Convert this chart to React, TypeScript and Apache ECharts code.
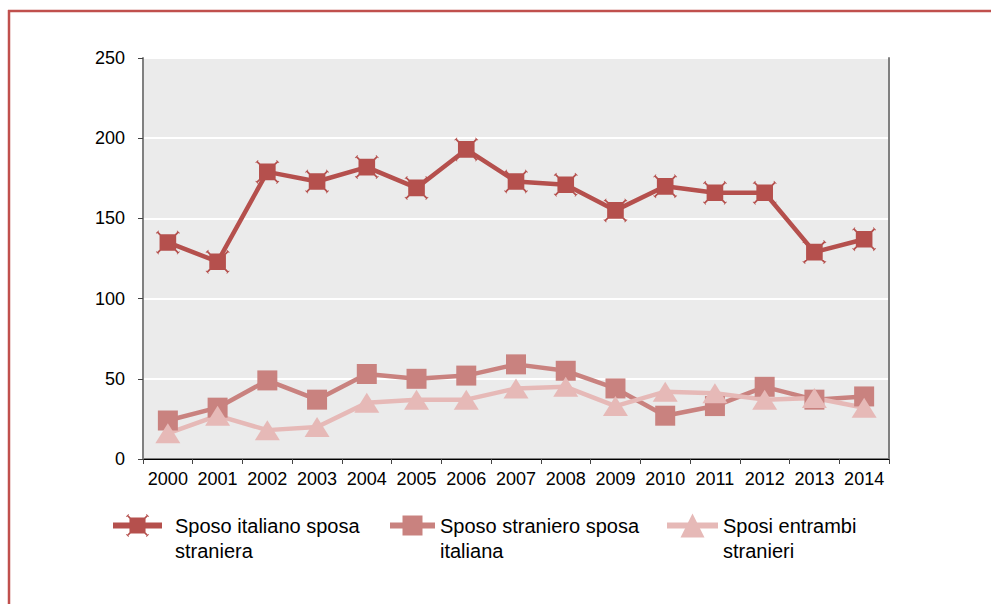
import React, { useEffect, useRef } from "react";
import * as echarts from "echarts";

const years = ["2000","2001","2002","2003","2004","2005","2006","2007","2008","2009","2010","2011","2012","2013","2014"];
const italianoStraniera = [135, 123, 179, 173, 182, 169, 193, 173, 171, 155, 170, 166, 166, 129, 137];
const stranieroItaliana = [24, 32, 49, 37, 53, 50, 52, 59, 55, 44, 27, 33, 45, 37, 39];
const entrambiStranieri = [16, 27, 18, 20, 35, 37, 37, 44, 45, 33, 42, 41, 37, 38, 32];
const seriesNames = [
  "Sposo italiano sposa straniera",
  "Sposo straniero sposa italiana",
  "Sposi entrambi stranieri",
];
const legendLabels: Record<string, string> = {
  "Sposo italiano sposa straniera": " \nSposo italiano sposa\nstraniera",
  "Sposo straniero sposa italiana": " \nSposo straniero sposa\nitaliana",
  "Sposi entrambi stranieri": " \nSposi entrambi\nstranieri",
};
const yTicks = { min: 0, max: 250, interval: 50 };

const C1 = "#b5504d";
const C2 = "#c9827f";
const C3 = "#e6b9b7";

// square marker with X-shaped corner spikes
function buildXSquare(): string {
  const pts: number[][][] = [];
  const sq = [[13, 13], [87, 13], [87, 87], [13, 87]];
  pts.push(sq);
  const spike = [[19.8, 14.2], [6.8, 1.2], [1.2, 6.8], [14.2, 19.8]];
  const cap = [[10.8, -1], [8.4, -3.4], [-3.4, 8.4], [-1, 10.8]];
  const orient = (poly: number[][]) => {
    let a = 0;
    for (let i = 0; i < poly.length; i++) {
      const p = poly[i], q = poly[(i + 1) % poly.length];
      a += p[0] * q[1] - q[0] * p[1];
    }
    return a;
  };
  const target = Math.sign(orient(sq));
  const flips = [[false, false], [true, false], [false, true], [true, true]];
  for (const [fx, fy] of flips) {
    for (const base of [spike, cap]) {
      let poly = base.map(([x, y]) => [fx ? 100 - x : x, fy ? 100 - y : y]);
      if (Math.sign(orient(poly)) !== target) poly = poly.slice().reverse();
      pts.push(poly);
    }
  }
  return (
    "path://" +
    pts
      .map((poly) => "M" + poly.map((p) => p[0].toFixed(1) + "," + p[1].toFixed(1)).join("L") + "Z")
      .join("")
  );
}

export default function App() {
  const ref = useRef<HTMLDivElement>(null);
  useEffect(() => {
    if (!ref.current) return;
    const chart = echarts.init(ref.current, null, { renderer: "svg" });
    const xSquare = buildXSquare();
    const font = "Liberation Sans, Arial, sans-serif";
    const legendBase = {
      top: 488,
      padding: 0,
      orient: "horizontal",
      formatter: (n: string) => legendLabels[n] || n,
      textStyle: { fontFamily: font, fontSize: 20, color: "#000", lineHeight: 25 },
    };
    chart.setOption({
      animation: false,
      backgroundColor: "#fff",
      textStyle: { fontFamily: font },
      grid: {
        left: 143,
        right: 102,
        top: 58,
        bottom: 145,
        show: true,
        backgroundColor: "#ebebeb",
        borderWidth: 0,
      },
      legend: [
        { ...legendBase, left: 110, data: [seriesNames[0]], itemWidth: 49, itemHeight: 29,
          textStyle: { ...legendBase.textStyle, padding: [0, 0, 0, 8] },
          lineStyle: { width: 6 } },
        { ...legendBase, left: 387, data: [seriesNames[1]], itemWidth: 45, itemHeight: 25,
          lineStyle: { width: 6 } },
        { ...legendBase, left: 664, data: [seriesNames[2]], itemWidth: 51, itemHeight: 30,
          lineStyle: { width: 6 } },
      ],
      xAxis: [
        {
          type: "category",
          data: years,
          boundaryGap: true,
          axisLine: { show: true, lineStyle: { color: "#808080", width: 2 } },
          axisTick: { show: true, length: 5, lineStyle: { color: "#444", width: 1 } },
          axisLabel: { color: "#000", fontSize: 18, margin: 11, fontFamily: font, interval: 0 },
          splitLine: { show: false },
        },
        {
          type: "category",
          data: years,
          position: "top",
          axisLine: { show: true, lineStyle: { color: "#000", width: 1 } },
          axisTick: { show: false },
          axisLabel: { show: false },
        },
      ],
      yAxis: [
        {
          type: "value",
          min: yTicks.min,
          max: yTicks.max,
          interval: yTicks.interval,
          axisLine: { show: true, lineStyle: { color: "#808080", width: 2 } },
          axisTick: { show: true, length: 5, lineStyle: { color: "#444", width: 1 } },
          axisLabel: { color: "#000", fontSize: 18, margin: 18, fontFamily: font },
          splitLine: { show: true, lineStyle: { color: "#fff", width: 2 } },
        },
        {
          type: "value",
          min: yTicks.min,
          max: yTicks.max,
          interval: yTicks.interval,
          position: "right",
          axisLine: { show: true, lineStyle: { color: "#808080", width: 2 } },
          axisTick: { show: false },
          axisLabel: { show: false },
          splitLine: { show: false },
        },
      ],
      series: [
        {
          name: seriesNames[0],
          type: "line",
          data: italianoStraniera,
          symbol: xSquare,
          symbolSize: 24,
          lineStyle: { color: C1, width: 4.5 },
          itemStyle: { color: C1 },
        },
        {
          name: seriesNames[1],
          type: "line",
          data: stranieroItaliana,
          symbol: "rect",
          symbolSize: 20,
          lineStyle: { color: C2, width: 4.5 },
          itemStyle: { color: C2 },
        },
        {
          name: seriesNames[2],
          type: "line",
          data: entrambiStranieri,
          symbol: "triangle",
          symbolSize: [25, 20],
          lineStyle: { color: C3, width: 4.5 },
          itemStyle: { color: C3 },
        },
      ],
      graphic: [
        { type: "line", shape: { x1: 8, y1: 11, x2: 991, y2: 11 }, style: { stroke: "#c0504d", lineWidth: 2.5 } },
        { type: "line", shape: { x1: 9, y1: 10, x2: 9, y2: 604 }, style: { stroke: "#c0504d", lineWidth: 2.5 } },
      ],
    });
    return () => chart.dispose();
  }, []);
  return (
    <div
      ref={ref}
      style={{ position: "fixed", left: 0, top: 0, width: 991, height: 604 }}
    />
  );
}
